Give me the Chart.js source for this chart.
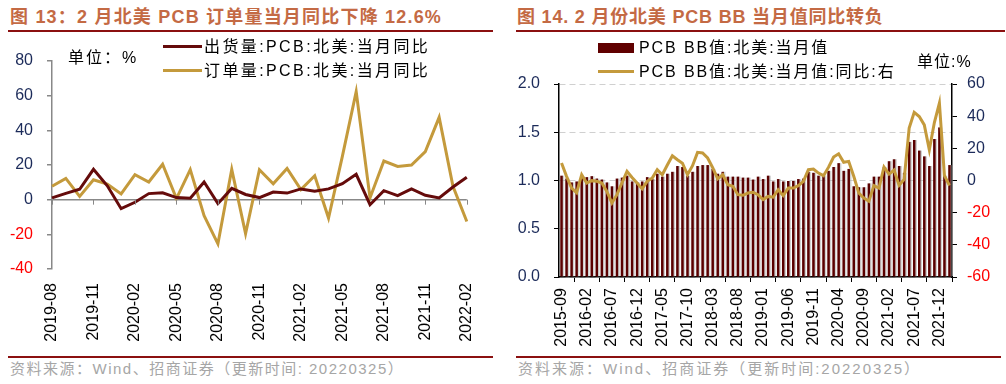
<!DOCTYPE html>
<html>
<head>
<meta charset="utf-8">
<script src="https://cdn.jsdelivr.net/npm/chart.js@4.4.1/dist/chart.umd.min.js"></script>
<style>
  body { margin: 0; width: 1006px; height: 384px; background: #fff; position: relative; overflow: hidden;
         font-family: "Liberation Sans", "Noto Sans CJK SC", sans-serif; }
  .abs { position: absolute; white-space: nowrap; }
  .title { font-size: 18px; font-weight: bold; color: #c46a44; letter-spacing: 0.8px; line-height: 20px; }
  .rule { position: absolute; height: 2px; background: #8b1010; }
  .foot { font-size: 15px; color: #a6a6a6; letter-spacing: 1.5px; line-height: 18px; }
  .leg { font-size: 16px; color: #000; letter-spacing: 2.4px; line-height: 18px; }
  .unit { font-size: 16px; color: #000; letter-spacing: 2px; line-height: 18px; }
  canvas { position: absolute; top: 0; }
</style>
</head>
<body>
<div class="abs title" style="left:10px; top:7px; letter-spacing:1.2px;">图 13：2 月北美 PCB 订单量当月同比下降 12.6%</div>
<div class="rule" style="left:8px; top:30px; width:485px;"></div>
<div class="abs title" style="left:517px; top:7px;">图 14. 2 月份北美 PCB BB 当月值同比转负</div>
<div class="rule" style="left:516px; top:30px; width:489px;"></div>

<div style="position:absolute; left:0; top:0; width:500px; height:355px;"><canvas id="leftChart"></canvas></div>
<div style="position:absolute; left:505px; top:0; width:501px; height:355px;"><canvas id="rightChart"></canvas></div>

<div class="abs unit" style="left:68px; top:49px;">单位：%</div>
<div class="abs" style="left:163px; top:45px; width:39px; height:3px; background:#650b0b;"></div>
<div class="abs leg" style="left:204px; top:38px;">出货量:PCB:北美:当月同比</div>
<div class="abs" style="left:163px; top:69px; width:39px; height:3px; background:#c49a3c;"></div>
<div class="abs leg" style="left:204px; top:62px;">订单量:PCB:北美:当月同比</div>

<div class="abs" style="left:598px; top:43px; width:36px; height:10px; background:#600000;"></div>
<div class="abs leg" style="left:639px; top:39px; letter-spacing:1.9px;">PCB BB值:北美:当月值</div>
<div class="abs" style="left:598px; top:70px; width:36px; height:3px; background:#c49a3c;"></div>
<div class="abs leg" style="left:639px; top:63px; letter-spacing:1.9px;">PCB BB值:北美:当月值:同比:右</div>
<div class="abs unit" style="left:917px; top:53px; letter-spacing:1px;">单位:%</div>

<div class="rule" style="left:8px; top:356px; width:485px;"></div>
<div class="abs foot" style="left:10px; top:360px;">资料来源：Wind、招商证券（更新时间: 20220325）</div>
<div class="rule" style="left:516px; top:356px; width:485px;"></div>
<div class="abs foot" style="left:518px; top:360px; letter-spacing:2px;">资料来源：Wind、招商证券（更新时间:20220325）</div>

<script>
// month labels helper: 'YYYY-MM' for n months from a start month
function monthLabels(start, n) {
    let y = parseInt(start.slice(0, 4));
    let m = parseInt(start.slice(5, 7));
    const out = [];
    for (let i = 0; i < n; i++) {
        out.push(y + '-' + String(m).padStart(2, '0'));
        m++;
        if (m > 12) { m = 1; y++; }
    }
    return out;
}

// Left chart: 2019-08 .. 2022-02
const leftMonths = monthLabels('2019-08', 31);
const shipYoY = [1, 3.6, 6, 17.5, 8, -5.2, -1.5, 3.5, 4, 1.2, 0.8, 10.2, -2.3, 6.5, 3, 1.2,
                 4.4, 3.8, 6.2, 4.8, 6.2, 9.2, 14.6, -2.9, 5.2, 2.3, 6.2, 2.5, 1, 7.3, 12.9];
const orderYoY = [7.7, 12.3, 1.9, 11.5, 9, 3.3, 14.4, 10.2, 20.4, 0.6, 17.3, -9.2, -25.5, 17.5, -19.6, 17.3,
                  9.2, 18, 5.8, 13.8, -10.6, 25, 62.3, 1, 22.3, 19.2, 20, 27.7, 47.5, 7.7, -12.6];
const leftTicks = [-40, -20, 0, 20, 40, 60, 80];

// Right chart: 2015-09 .. 2022-02
const rightMonths = monthLabels('2015-09', 78);
const bbValue = [1.05, 1.02, 0.98, 0.99, 1.04, 1.035, 1.045, 1.02, 1.01, 0.98,
                 0.94, 1.02, 1.03, 1.05, 0.99, 0.98, 0.99, 1.035, 1.015, 1.07,
                 1.04, 1.07, 1.09, 1.15, 1.14, 1.05, 1.09, 1.15, 1.16, 1.16,
                 1.12, 1.07, 1.09, 1.04, 1.04, 1.04, 1.03, 1.03, 1.01, 1.04,
                 1.015, 1.05, 0.99, 1.015, 0.99, 0.995, 0.995, 1.015, 1.02, 1.09,
                 1.08, 1.05, 1.05, 1.1, 1.14, 1.18, 1.1, 1.12, 0.94, 0.93,
                 0.93, 0.97, 1.04, 1.04, 1.14, 1.2, 1.22, 1.15, 1.08, 1.40,
                 1.42, 1.31, 1.25, 1.15, 1.43, 1.55, 1.05, 1.16];
const bbYoY = [10.9, 2.6, -4.7, -7.6, 3.6, -1.6, -0.1, -0.5, -1.6, -6.8,
               -14, -8.8, -1.5, 5.7, 1.9, -1.6, -5.2, -0.5, 1.5, 6.7,
               3.6, 9.6, 15.4, 12.9, 10.8, 3.6, 9.2, 17.5, 17.1, 14,
               8, 1, 3.6, -2.6, -3.6, -8.8, -9.2, -7.8, -7.3, -8.8,
               -11.9, -9.9, -10.4, -5.7, -9.4, -4.7, -4.7, -3.2, -0.5, 6.7,
               7.1, 4.6, 3.0, 8.3, 14.6, 16.6, 11.3, 11.9, 2.6, -7.8,
               -10.9, -12.9, -3.2, -4.7, 8.4, 4, 6.5, -2.9, 0.7, 32.6,
               42.4, 39.8, 34.6, 19.1, 36, 48.1, 3, -3.1];

const navy = '#1c2b5a';
const red = '#ff0000';
const tickFont = { family: 'Liberation Sans', size: 16 };

// small tick marks on the zero line of the left chart
const zeroTicks = {
    id: 'zeroTicks',
    afterDraw(chart) {
        const ctx = chart.ctx;
        const x = chart.scales.x, y = chart.scales.y;
        const y0 = y.getPixelForValue(0);
        ctx.save();
        ctx.strokeStyle = '#888';
        ctx.lineWidth = 1;
        leftMonths.forEach((m, i) => {
            if (i % 3 !== 0) return;
            const px = Math.round(x.getPixelForValue(i)) + 0.5;
            ctx.beginPath();
            ctx.moveTo(px, y0);
            ctx.lineTo(px, y0 + 5);
            ctx.stroke();
        });
        ctx.restore();
    }
};

function initLeftChart() {
    const ctx = document.getElementById('leftChart');
    new Chart(ctx.getContext('2d'), {
        type: 'line',
        data: {
            labels: leftMonths,
            datasets: [{
                label: '出货量:PCB:北美:当月同比',
                data: shipYoY,
                borderColor: '#650b0b',
                borderWidth: 3,
                pointRadius: 0,
                tension: 0,
                order: 0
            }, {
                label: '订单量:PCB:北美:当月同比',
                data: orderYoY,
                borderColor: '#c49a3c',
                borderWidth: 3,
                pointRadius: 0,
                tension: 0,
                order: 1
            }]
        },
        options: {
            responsive: true,
            maintainAspectRatio: false,
            animation: false,
            layout: { padding: { top: 61, right: 21, left: 0, bottom: 0 } },
            plugins: { legend: { display: false }, tooltip: { enabled: false } },
            scales: {
                x: {
                    grid: { display: false, drawTicks: false },
                    border: { display: false },
                    ticks: {
                        autoSkip: false,
                        minRotation: 90,
                        maxRotation: 90,
                        padding: 14,
                        color: '#000',
                        font: tickFont,
                        callback: function(v, i) { return i % 3 === 0 ? leftMonths[i] : null; }
                    },
                    afterFit(scale) { scale.height = 86; }
                },
                y: {
                    min: -40,
                    max: 80,
                    afterBuildTicks(scale) { scale.ticks = leftTicks.map(v => ({ value: v })); },
                    grid: {
                        color: c => (c.tick && c.tick.value === 0) ? '#888' : 'rgba(0,0,0,0)',
                        tickColor: '#888',
                        tickLength: 5,
                        lineWidth: 1.5
                    },
                    border: { display: true, color: '#888', width: 1.5 },
                    ticks: {
                        padding: 14,
                        font: tickFont,
                        color: c => c.tick.value < 0 ? red : navy
                    },
                    afterFit(scale) { scale.width = 52; }
                }
            }
        },
        plugins: [zeroTicks]
    });
}

// light shadow on the right of the bars
const barShadow = {
    id: 'barShadow',
    beforeDatasetDraw(chart, args) {
        if (args.meta.type !== 'bar') return;
        chart.ctx.save();
        chart.ctx.shadowColor = 'rgba(150,150,150,0.45)';
        chart.ctx.shadowOffsetX = 1.5;
        chart.ctx.shadowOffsetY = 0;
        chart.ctx.shadowBlur = 0;
    },
    afterDatasetDraw(chart, args) {
        if (args.meta.type !== 'bar') return;
        chart.ctx.restore();
    }
};

function initRightChart() {
    const ctx = document.getElementById('rightChart');
    new Chart(ctx.getContext('2d'), {
        type: 'bar',
        data: {
            labels: rightMonths,
            datasets: [{
                type: 'line',
                label: 'PCB BB值:北美:当月值:同比:右',
                data: bbYoY,
                yAxisID: 'y1',
                borderColor: '#c49a3c',
                borderWidth: 3,
                pointRadius: 0,
                tension: 0,
                order: 0
            }, {
                type: 'bar',
                label: 'PCB BB值:北美:当月值',
                data: bbValue,
                yAxisID: 'y',
                backgroundColor: '#5a0000',
                barPercentage: 0.5,
                categoryPercentage: 1,
                order: 1
            }]
        },
        options: {
            responsive: true,
            maintainAspectRatio: false,
            animation: false,
            layout: { padding: { top: 84, right: 0, left: 0, bottom: 0 } },
            plugins: { legend: { display: false }, tooltip: { enabled: false } },
            scales: {
                x: {
                    offset: true,
                    grid: {
                        offset: true,
                        drawOnChartArea: false,
                        drawTicks: true,
                        tickLength: 5,
                        tickColor: '#000'
                    },
                    border: { display: true, color: '#000', width: 1.5 },
                    ticks: {
                        autoSkip: false,
                        minRotation: 90,
                        maxRotation: 90,
                        padding: 6,
                        color: '#000',
                        font: tickFont,
                        callback: function(v, i) { return i % 5 === 0 ? rightMonths[i] : null; }
                    },
                    afterFit(scale) { scale.height = 78; }
                },
                y: {
                    position: 'left',
                    min: 0,
                    max: 2,
                    ticks: {
                        stepSize: 0.5,
                        padding: 14,
                        font: tickFont,
                        color: navy,
                        callback: v => v.toFixed(1)
                    },
                    grid: {
                        color: '#d0d0d0',
                        tickColor: '#000',
                        tickLength: 5,
                        lineWidth: 1
                    },
                    border: { display: true, color: '#000', width: 1.5, dash: [6, 4] },
                    afterFit(scale) { scale.width = 54; }
                },
                y1: {
                    position: 'right',
                    min: -60,
                    max: 60,
                    ticks: {
                        stepSize: 20,
                        padding: 10,
                        font: tickFont,
                        color: c => c.tick.value < 0 ? red : navy
                    },
                    grid: {
                        drawOnChartArea: false,
                        tickColor: '#000',
                        tickLength: 5
                    },
                    border: { display: true, color: '#000', width: 1.5 },
                    afterFit(scale) { scale.width = 54; }
                }
            }
        },
        plugins: [barShadow]
    });
}

document.addEventListener('DOMContentLoaded', () => {
    initLeftChart();
    initRightChart();
});
</script>
</body>
</html>
